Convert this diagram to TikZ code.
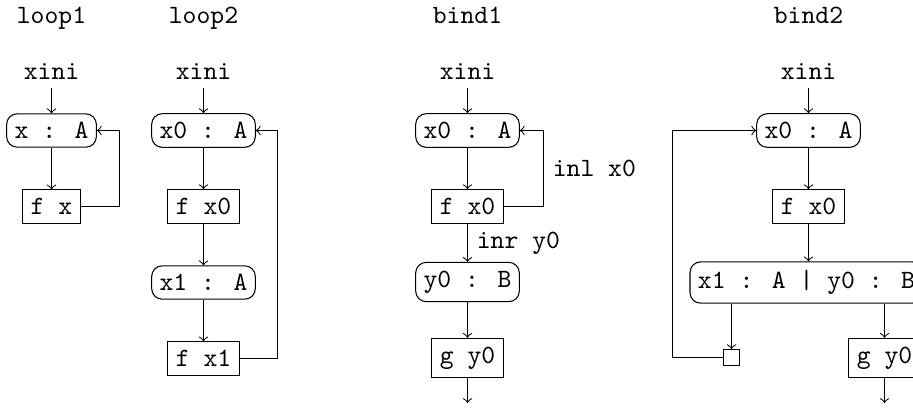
\documentclass[tikz,border=0pt]{standalone}
\begin{document}
\begin{tikzpicture}[x=0.3788pt,y=-0.3788pt,
  every node/.style={font=\ttfamily},
  rbox/.style={draw,rounded corners=4pt,inner xsep=3pt,inner ysep=3.2pt},
  sbox/.style={draw,inner xsep=3pt,inner ysep=3.2pt},
  lbl/.style={anchor=base},
  arr/.style={->}]
\useasboundingbox (0,0) rectangle (913,407);
\clip (0,0) rectangle (913,407);
% loop1
\node[lbl] (t1) at (51.5,23) {loop1};
\node[lbl] (xi1) at (51.5,79) {xini};
\node[rbox] (a) at (51.5,130.5) {x : A};
\node[sbox] (b) at (51.5,206.5) {f x};
\draw[arr] (xi1) -- (a);
\draw[arr] (a) -- (b);
\draw[arr] (b.east) -- ++(38.5,0) |- (a.east);
% loop2
\node[lbl] (t2) at (203.5,23) {loop2};
\node[lbl] (xi2) at (203.5,79) {xini};
\node[rbox] (c) at (203.5,130.5) {x0 : A};
\node[sbox] (d) at (203.5,206.5) {f x0};
\node[rbox] (e) at (203.5,282.5) {x1 : A};
\node[sbox] (f) at (203.5,358.5) {f x1};
\draw[arr] (xi2) -- (c);
\draw[arr] (c) -- (d);
\draw[arr] (d) -- (e);
\draw[arr] (e) -- (f);
\draw[arr] (f.east) -- ++(37.8,0) |- (c.east);
% bind1
\node[lbl] (t3) at (467.5,23) {bind1};
\node[lbl] (xi3) at (467.5,79) {xini};
\node[rbox] (g) at (467.5,130.5) {x0 : A};
\node[sbox] (h) at (467.5,206.5) {f x0};
\node[rbox] (i) at (467.5,282) {y0 : B};
\node[sbox] (j) at (467.5,358) {g y0};
\coordinate (end1) at (467.5,403);
\draw[arr] (xi3) -- (g);
\draw[arr] (g) -- (h);
\draw[arr] (h.east) -- ++(39.8,0) |- node[pos=0.25,right] {inl x0} (g.east);
\draw[arr] (h) -- node[right] {inr y0} (i);
\draw[arr] (i) -- (j);
\draw[arr] (j) -- (end1);
% bind2
\node[lbl] (t4) at (808.5,23) {bind2};
\node[lbl] (xi4) at (808.5,79) {xini};
\node[rbox] (k) at (808.5,130.5) {x0 : A};
\node[sbox] (l) at (808.5,206.5) {f x0};
\node[rbox] (m) at (806.5,282.5) {x1 : A | y0 : B};
\node[draw,inner sep=3pt] (sq) at (731.5,357.5) {};
\node[sbox] (n) at (884.5,358) {g y0};
\coordinate (end2) at (884.5,403);
\draw[arr] (xi4) -- (k);
\draw[arr] (k) -- (l);
\draw[arr] (l) -- (l |- m.north);
\draw[arr] (m.south -| sq) -- (sq);
\draw[arr] (m.south -| n) -- (n);
\draw[arr] (n) -- (end2);
\draw[arr] (sq.west) -- ++(-50.5,0) |- (k.west);
\end{tikzpicture}
\end{document}
